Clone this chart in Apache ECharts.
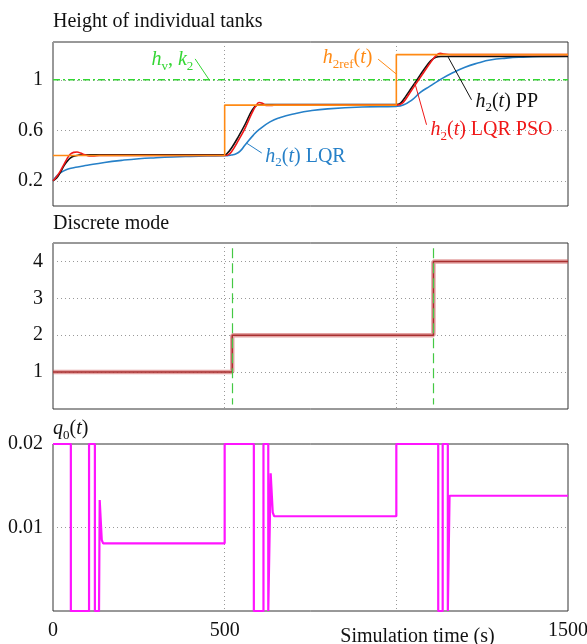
<!DOCTYPE html>
<html>
<head>
<meta charset="utf-8">
<title>Height of individual tanks</title>
<script src="https://cdn.jsdelivr.net/npm/echarts@6.0.0/dist/echarts.min.js"></script>
<style>
  html, body { margin: 0; padding: 0; background: #fff; }
  #main { width: 587px; height: 644px; }
</style>
</head>
<body>
<div id="main"></div>
<script>
var FONT = 'Liberation Serif';

// tank height: reference h2ref(t)
var refT = [0, 500, 1000, 1500];
var refH = [0.4, 0.8, 1.2, 1.2];

// h2(t) PP
var ppT = [0, 10, 20, 30, 40, 50, 60, 75, 90, 500, 505, 520, 540, 560, 580, 595, 610, 1000, 1010, 1020, 1040, 1060, 1080, 1100, 1115, 1130, 1500];
var ppH = [0.2, 0.22, 0.26, 0.31, 0.35, 0.38, 0.395, 0.403, 0.405, 0.405, 0.41, 0.46, 0.55, 0.65, 0.76, 0.8, 0.805, 0.805, 0.81, 0.84, 0.92, 1.0, 1.08, 1.15, 1.18, 1.185, 1.185];

// h2(t) LQR PSO
var psoT = [0, 10, 20, 30, 40, 50, 60, 70, 80, 90, 100, 110, 120, 135, 500, 510, 520, 540, 560, 580, 590, 600, 610, 620, 635, 650, 1000, 1010, 1020, 1040, 1060, 1080, 1100, 1115, 1128, 1140, 1160, 1500];
var psoH = [0.2, 0.23, 0.27, 0.32, 0.37, 0.41, 0.425, 0.428, 0.42, 0.408, 0.4, 0.396, 0.397, 0.4, 0.4, 0.405, 0.43, 0.52, 0.62, 0.74, 0.79, 0.82, 0.815, 0.798, 0.797, 0.8, 0.8, 0.805, 0.82, 0.9, 0.98, 1.06, 1.14, 1.19, 1.21, 1.205, 1.2, 1.2];

// h2(t) LQR
var lqrT = [0, 10, 20, 40, 60, 80, 100, 150, 200, 250, 300, 350, 400, 450, 500, 510, 520, 532, 545, 560, 583, 600, 632, 660, 710, 750, 800, 900, 1000, 1020, 1045, 1070, 1098, 1127, 1160, 1200, 1240, 1273, 1320, 1369, 1430, 1500];
var lqrH = [0.2, 0.235, 0.26, 0.29, 0.303, 0.313, 0.323, 0.345, 0.362, 0.375, 0.383, 0.389, 0.393, 0.396, 0.398, 0.4, 0.404, 0.413, 0.435, 0.485, 0.56, 0.605, 0.667, 0.7, 0.735, 0.755, 0.77, 0.785, 0.79, 0.8, 0.84, 0.9, 0.95, 1.0, 1.05, 1.1, 1.135, 1.157, 1.172, 1.18, 1.185, 1.187];

// hv, k2 level
var hvT = [0, 1500];
var hvH = [1, 1];

// discrete mode
var modeT = [0, 522, 1108, 1500];
var modeV = [1, 2, 4, 4];
var switchT = [522, 1108];

// q0(t)
var q0T = [0, 52, 52, 105, 105, 122, 122, 134, 136, 142, 146, 500, 500, 585, 585, 613, 613, 627, 627, 632, 634, 640, 644, 1000, 1000, 1122, 1122, 1135, 1135, 1150, 1150, 1155, 1155, 1500];
var q0V = [0.02, 0.02, 0, 0, 0.02, 0.02, 0, 0, 0.0133, 0.0085, 0.0081, 0.0081, 0.02, 0.02, 0, 0, 0.02, 0.02, 0, 0, 0.0165, 0.0118, 0.01135, 0.01135, 0.02, 0.02, 0, 0, 0.02, 0.02, 0, 0, 0.0138, 0.0138];

var xTicks = [0, 500, 1500];
var hTicks = [0.2, 0.6, 1];
var modeTicks = [1, 2, 3, 4];
var qTicks = [0.01, 0.02];

function pairs(xs, ys) {
  return xs.map(function (x, i) { return [x, ys[i]]; });
}

var rich = {
  i: { fontFamily: FONT, fontStyle: 'italic', fontSize: 20, lineHeight: 26, verticalAlign: 'middle' },
  n: { fontFamily: FONT, fontSize: 20, lineHeight: 26, verticalAlign: 'middle' },
  s: { fontFamily: FONT, fontSize: 13, lineHeight: 14, verticalAlign: 'bottom' }
};

// text tag placed in data coordinates
function tag(text, coord, side, color) {
  return {
    silent: true, symbol: 'circle', symbolSize: 1,
    itemStyle: { color: 'transparent' },
    label: {
      show: true, position: side, distance: 0, color: color,
      formatter: function () { return text; }, rich: rich
    },
    data: [{ coord: coord }]
  };
}

// leader line from a tag to its curve
function leader(from, to, color) {
  return {
    silent: true, symbol: ['none', 'none'],
    label: { show: false },
    lineStyle: { type: 'solid', width: 1, color: color },
    data: [[{ coord: from }, { coord: to }]]
  };
}

var dotted = { color: '#999', type: [1, 3], width: 1 };
var tickText = { fontFamily: FONT, fontSize: 20, color: '#111', margin: 10 };

function xAx(gi, withLabels) {
  var ax = {
    type: 'value', gridIndex: gi, min: 0, max: 1500, interval: 500,
    axisLine: { show: false }, axisTick: { show: false },
    splitLine: { show: true, lineStyle: dotted },
    axisLabel: { show: false }
  };
  if (withLabels) {
    ax.axisLabel = Object.assign({
      show: true, customValues: xTicks,
      formatter: function (v) { return String(v); }
    }, tickText);
    ax.name = 'Simulation time (s)';
    ax.nameLocation = 'middle';
    ax.nameGap = 16;
    ax.nameMoveOverlap = false;
    ax.nameTextStyle = { fontFamily: FONT, fontSize: 20, color: '#111', padding: [0, 0, 0, 214] };
  }
  return ax;
}

function yAx(gi, min, max, ticks) {
  return {
    type: 'value', gridIndex: gi, min: min, max: max,
    axisLine: { show: false },
    axisTick: { show: false, customValues: ticks },
    axisLabel: Object.assign({ customValues: ticks }, tickText),
    splitLine: { show: true, lineStyle: dotted }
  };
}

function grid(top, height) {
  return {
    left: 53, right: 19, top: top, height: height,
    show: true, borderColor: '#333', borderWidth: 1,
    backgroundColor: 'transparent', outerBoundsMode: 'none'
  };
}

var titleStyle = { fontFamily: FONT, fontSize: 20, fontWeight: 'normal', color: '#111', lineHeight: 26 };

var myChart = echarts.init(document.getElementById('main'));

var option = {
  animation: false,
  backgroundColor: '#fff',
  textStyle: { fontFamily: FONT },
  title: [
    { text: 'Height of individual tanks', left: 53, top: 9, padding: 0, textStyle: titleStyle },
    { text: 'Discrete mode', left: 53, top: 211, padding: 0, textStyle: titleStyle },
    { text: '{i|q}{s|0}{n|(}{i|t}{n|)}', left: 53, top: 416, padding: 0,
      textStyle: Object.assign({ rich: rich }, titleStyle) }
  ],
  grid: [grid(42, 164), grid(243, 166), grid(444, 167)],
  xAxis: [xAx(0, false), xAx(1, false), xAx(2, true)],
  yAxis: [
    yAx(0, 0, 1.3, hTicks),
    yAx(1, 0, 4.5, modeTicks),
    yAx(2, 0, 0.02, qTicks)
  ],
  series: [
    {
      name: 'hv, k2', type: 'line', xAxisIndex: 0, yAxisIndex: 0,
      data: pairs(hvT, hvH), symbol: 'none', silent: true,
      lineStyle: { color: '#33d633', width: 1.5, type: [7, 3, 2, 3] },
      markPoint: tag('{i|h}{s|v}{n|, }{i|k}{s|2}', [410, 1.158], 'left', '#33d633'),
      markLine: leader([414, 1.166], [455, 1.0], '#33d633')
    },
    {
      name: 'h2(t) LQR', type: 'line', xAxisIndex: 0, yAxisIndex: 0,
      data: pairs(lqrT, lqrH), symbol: 'none', silent: true,
      smooth: 0.5,
      lineStyle: { color: '#2680c8', width: 1.6 },
      markPoint: tag('{i|h}{s|2}{n|(}{i|t}{n|) LQR}', [617, 0.393], 'right', '#2680c8'),
      markLine: leader([608, 0.42], [563, 0.5], '#2680c8')
    },
    {
      name: 'h2(t) PP', type: 'line', xAxisIndex: 0, yAxisIndex: 0,
      data: pairs(ppT, ppH), symbol: 'none', silent: true,
      smooth: 0.4,
      lineStyle: { color: '#111', width: 1.6 },
      markPoint: tag('{i|h}{s|2}{n|(}{i|t}{n|) PP}', [1229, 0.828], 'right', '#111'),
      markLine: leader([1219, 0.842], [1151, 1.18], '#111')
    },
    {
      name: 'h2(t) LQR PSO', type: 'line', xAxisIndex: 0, yAxisIndex: 0,
      data: pairs(psoT, psoH), symbol: 'none', silent: true,
      smooth: 0.4,
      lineStyle: { color: '#f01818', width: 1.6 },
      markPoint: tag('{i|h}{s|2}{n|(}{i|t}{n|) LQR PSO}', [1098, 0.604], 'right', '#f01818'),
      markLine: leader([1088, 0.644], [1054, 0.974], '#f01818')
    },
    {
      name: 'h2ref(t)', type: 'line', xAxisIndex: 0, yAxisIndex: 0,
      data: pairs(refT, refH), symbol: 'none', silent: true, step: 'end',
      lineStyle: { color: '#ff8a14', width: 1.6 },
      markPoint: tag('{i|h}{s|2ref}{n|(}{i|t}{n|)}', [932, 1.174], 'left', '#ff8a14'),
      markLine: leader([947, 1.164], [999, 1.048], '#ff8a14')
    },
    {
      name: 'mode halo', type: 'line', xAxisIndex: 1, yAxisIndex: 1,
      data: pairs(modeT, modeV), symbol: 'none', silent: true, step: 'end',
      lineStyle: { color: 'rgba(205,90,90,0.55)', width: 4.5 }
    },
    {
      name: 'mode', type: 'line', xAxisIndex: 1, yAxisIndex: 1,
      data: pairs(modeT, modeV), symbol: 'none', silent: true, step: 'end',
      lineStyle: { color: '#a83030', width: 1.5 },
      markLine: {
        silent: true, symbol: ['none', 'none'], label: { show: false },
        lineStyle: { type: [10, 5], width: 1.2, color: '#44c844' },
        data: switchT.map(function (t) { return [{ coord: [t, 4.36] }, { coord: [t, 0.12] }]; })
      }
    },
    {
      name: 'q0(t)', type: 'line', xAxisIndex: 2, yAxisIndex: 2,
      data: pairs(q0T, q0V), symbol: 'none', silent: true,
      lineStyle: { color: '#ff14ff', width: 2.2 }
    }
  ]
};

myChart.setOption(option);
</script>
</body>
</html>
